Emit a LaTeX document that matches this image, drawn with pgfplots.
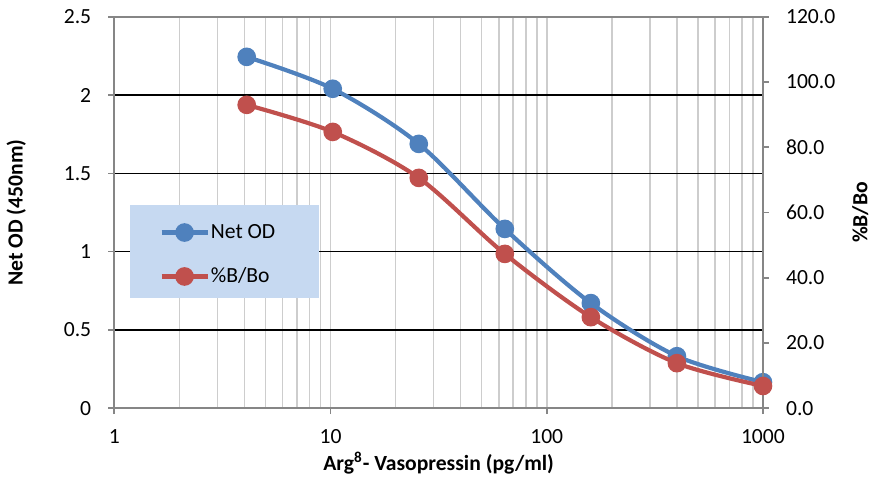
\documentclass[border=0pt]{standalone}
\usepackage{fontspec}
\setmainfont{Carlito}
\usepackage{pgfplots}
\pgfplotsset{compat=1.18}

\definecolor{netod}{RGB}{79,129,189}
\definecolor{bbo}{RGB}{192,80,77}
\definecolor{legfill}{RGB}{198,217,241}
\definecolor{axgray}{RGB}{134,134,134}
\definecolor{gridgray}{RGB}{205,205,205}

\begin{document}
\begin{tikzpicture}
\pgfplotsset{
  every axis/.append style={
    scale only axis, width=324pt, height=195.5pt,
    xmode=log, xmin=1, xmax=1000,
    font=\fontsize{10.8}{12}\selectfont,
    tick label style={font=\fontsize{10.8}{12}\selectfont},
    /pgf/number format/assume math mode=true,
    axis line style={axgray, line width=0.8pt},
    tick style={axgray, line width=0.8pt},
    tick align=outside, major tick length=3pt, minor tick length=0pt,
  },
  curve/.style={smooth, tension=0.5, line width=2.1pt, mark=*, mark size=3.6pt, mark options={solid}},
}
\begin{axis}[
  ymin=0, ymax=2.5, ytick={0,0.5,1,1.5,2,2.5},
  xtick={1,10,100,1000}, xticklabels={1,10,100,1000},
  minor xtick={2,3,4,5,6,7,8,9,20,30,40,50,60,70,80,90,200,300,400,500,600,700,800,900},
  xtick pos=bottom, ytick pos=left,
  xmajorgrids, xminorgrids, ymajorgrids,
  major x grid style={gridgray, line width=0.8pt},
  minor x grid style={gridgray, line width=0.8pt},
  major y grid style={black, line width=0.65pt},
  xlabel={\bfseries Arg\textsuperscript{8}- Vasopressin (pg/ml)},
  ylabel={\bfseries Net OD (450nm)},
  xlabel style={at={(axis description cs:0.5,-0.141)}, anchor=center},
  ylabel style={at={(axis description cs:-0.151,0.5)}, anchor=center},
  xticklabel style={yshift=-4pt},
  yticklabel style={xshift=-5pt},
  legend style={at={(axis description cs:0.069,0.392)}, anchor=west,
    draw=none, fill=none, inner sep=0pt, row sep=12pt,
    cells={anchor=west}, nodes={inner sep=0.6pt},
    font=\fontsize{10.8}{12}\selectfont},
  legend image code/.code={
    \draw[#1, mark repeat=2, mark phase=2] plot coordinates {(0pt,0pt) (11.5pt,0pt) (23pt,0pt)};},
]
\fill[legfill] (axis description cs:0.0247,0.281) rectangle (axis description cs:0.315,0.519);
\addplot[curve, netod] coordinates {
(4.096,2.244) (10.24,2.040) (25.6,1.688) (64,1.145) (160,0.671) (400,0.332) (1000,0.166)};
\addlegendentry{Net OD}
\addlegendimage{curve, bbo}
\addlegendentry{\%B/Bo}
\end{axis}
\begin{axis}[
  axis x line=none, axis y line*=right,
  ymin=0, ymax=120, ytick={0,20,40,60,80,100,120},
  yticklabel style={xshift=5pt, /pgf/number format/fixed, /pgf/number format/fixed zerofill, /pgf/number format/precision=1},
  ylabel={\bfseries \%B/Bo},
  ylabel style={at={(axis description cs:1.150,0.5)}, anchor=center},
]
\addplot[curve, bbo] coordinates {
(4.096,93.0) (10.24,84.7) (25.6,70.6) (64,47.3) (160,27.9) (400,13.8) (1000,6.8)};
\end{axis}
\path ([yshift=1.5pt]current bounding box.north);
\end{tikzpicture}
\end{document}
